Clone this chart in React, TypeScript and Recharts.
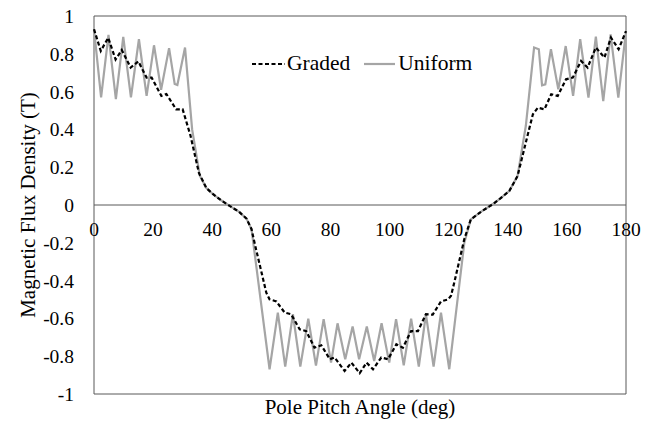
import React from "react";
import {
    LineChart,
    Line,
    XAxis,
    YAxis,
    Legend,
    Label,
    ReferenceLine,
    ReferenceArea,
} from "recharts";

// Uniform magnet: pole pitch angle (deg) and flux density (T)
const uniformAngle = [
    0, 2.4, 4.9, 7.4, 9.9, 12.5, 15.2, 17.8, 20.3, 22.7, 25.4, 27.3, 28.2, 30.8, 33.2, 35.8,
    38, 40.3, 43, 45.9, 49, 51.6, 53.3,
    59.4, 62.2, 64.7, 67.3, 69.8, 72.5, 75.1, 77.7, 80.2, 82.4, 85, 87.5, 89.7, 92.3, 94.8,
    97.3, 99.9, 102.2, 104.8, 107.3, 109.9, 112.3, 114.9, 117.4, 120.2,
    125.3, 127.5, 131, 134.9, 137.5, 140.5, 143.3, 146.1,
    148.9, 150.5, 151.6, 152.7, 154.6, 157.1, 159.6, 162.1, 164.5, 167.3, 169.8, 172.3, 174.8, 177.4, 180,
];
const uniformFlux = [
    0.93, 0.57, 0.9, 0.56, 0.89, 0.57, 0.877, 0.577, 0.845, 0.61, 0.83, 0.64, 0.635, 0.833, 0.4, 0.155,
    0.09, 0.057, 0.025, -0.005, -0.035, -0.072, -0.128,
    -0.869, -0.569, -0.855, -0.578, -0.855, -0.601, -0.85, -0.604, -0.834, -0.626, -0.816, -0.643, -0.816, -0.643, -0.825,
    -0.626, -0.834, -0.604, -0.848, -0.601, -0.855, -0.578, -0.855, -0.569, -0.869,
    -0.199, -0.076, -0.035, 0.004, 0.035, 0.074, 0.153, 0.418,
    0.833, 0.824, 0.633, 0.638, 0.824, 0.612, 0.841, 0.577, 0.877, 0.568, 0.891, 0.55, 0.903, 0.568, 0.92,
];

// Graded magnet
const gradedAngle = [
    0, 2.3, 4.8, 7.3, 9.4, 12.4, 15, 17.8, 19.5, 22.8, 24.5, 27.8, 30, 32.6, 35.5,
    38, 40.3, 43, 45.9, 49, 51.6, 53.3, 54.3, 58.3,
    59.4, 61.7, 64.5, 66.7, 69.6, 71.8, 74.6, 76.9, 79.8, 81.4, 84.8, 87.1, 89.9, 92.2, 94.4,
    97.2, 99.5, 102.3, 104.5, 107.3, 109.6, 112.3, 114.6, 117.4, 119.8, 120.8, 121.9,
    125.3, 127.5, 131, 134.9, 137.5, 140.5, 143.3, 147.2, 148.5,
    150.2, 152.4, 154.7, 156.9, 159.7, 162, 164.8, 167, 169.8, 172.7, 174.9, 177.5, 180,
];
const gradedFlux = [
    0.93, 0.815, 0.885, 0.77, 0.82, 0.727, 0.76, 0.674, 0.674, 0.577, 0.587, 0.506, 0.506, 0.37, 0.17,
    0.09, 0.057, 0.025, -0.005, -0.035, -0.072, -0.128, -0.199, -0.464,
    -0.499, -0.51, -0.569, -0.578, -0.658, -0.667, -0.755, -0.742, -0.816, -0.807, -0.878, -0.834, -0.89, -0.834, -0.869,
    -0.807, -0.816, -0.737, -0.755, -0.667, -0.667, -0.578, -0.58, -0.51, -0.5, -0.48, -0.41,
    -0.18, -0.076, -0.035, 0.004, 0.035, 0.074, 0.153, 0.4, 0.48,
    0.515, 0.506, 0.586, 0.577, 0.665, 0.674, 0.762, 0.727, 0.833, 0.78, 0.886, 0.824, 0.92,
];

const xTicks = [0, 20, 40, 60, 80, 100, 120, 140, 160, 180];
const yTicks = [-1, -0.8, -0.6, -0.4, -0.2, 0, 0.2, 0.4, 0.6, 0.8, 1];

const uniformData = uniformAngle.map((angle, i) => ({ angle, flux: uniformFlux[i] }));
const gradedData = gradedAngle.map((angle, i) => ({ angle, flux: gradedFlux[i] }));

const FONT = '"Liberation Serif", "DejaVu Serif", serif';
const TICK_SIZE = 19.5;
const TITLE_SIZE = 21;
const LEGEND_SIZE = 21.5;
const WIDTH = 657;
const HEIGHT = 421;
const MARGIN = { top: 16, right: 31, bottom: 0, left: 0 };
const X_AXIS_HEIGHT = 27;
const PLOT_HEIGHT = HEIGHT - MARGIN.top - MARGIN.bottom - X_AXIS_HEIGHT;
const AXIS_COLOR = "#595959";
const UNIFORM_COLOR = "#a5a5a5";
const GRADED_DASH = "4 2.5";

const tickStyle = { fontFamily: FONT, fontSize: TICK_SIZE, fill: "#000" };
const titleStyle = { fontFamily: FONT, fontSize: TITLE_SIZE, fill: "#000" };

// x tick labels sit just under the zero line, not at the bottom of the frame
const XTick = (props: any) => {
    const { x, y, payload } = props;
    return (
        <text x={x} y={y - PLOT_HEIGHT / 2 + 31} textAnchor="middle" style={tickStyle}>
            {payload.value}
        </text>
    );
};

const renderLegend = () => (
    <div style={{ display: "flex", alignItems: "center", fontFamily: FONT, fontSize: LEGEND_SIZE, color: "#000" }}>
        <svg width={33} height={10}>
            <line x1={0} y1={5} x2={33} y2={5} stroke="#000" strokeWidth={2.2} strokeDasharray={GRADED_DASH} />
        </svg>
        <span style={{ marginLeft: 2 }}>Graded</span>
        <svg width={31} height={10} style={{ marginLeft: 14 }}>
            <line x1={0} y1={5} x2={31} y2={5} stroke={UNIFORM_COLOR} strokeWidth={2.2} />
        </svg>
        <span style={{ marginLeft: 3 }}>Uniform</span>
    </div>
);

export default function App() {
    return (
        <div style={{ position: "absolute", left: 0, top: 0, width: WIDTH, height: HEIGHT, background: "#fff", fontFamily: FONT }}>
            <LineChart width={WIDTH} height={HEIGHT} margin={MARGIN} style={{ fontFamily: FONT }}>
                <ReferenceArea x1={0} x2={180} y1={-1} y2={1} fill="none" stroke={AXIS_COLOR} strokeWidth={1} />
                <ReferenceLine y={0} stroke={AXIS_COLOR} strokeWidth={1} />
                <XAxis
                    type="number"
                    dataKey="angle"
                    domain={[0, 180]}
                    ticks={xTicks}
                    height={X_AXIS_HEIGHT}
                    axisLine={false}
                    tickLine={false}
                    tickSize={0}
                    tickMargin={0}
                    tick={<XTick />}
                    interval={0}
                >
                    <Label value="Pole Pitch Angle (deg)" position="insideBottom" offset={7} style={titleStyle} />
                </XAxis>
                <YAxis
                    type="number"
                    domain={[-1, 1]}
                    ticks={yTicks}
                    width={94}
                    axisLine={false}
                    tickLine={false}
                    tickSize={0}
                    tickMargin={20}
                    interval={0}
                    tickFormatter={(v: number) => String(v)}
                    tick={tickStyle}
                >
                    <Label
                        value="Magnetic Flux Density (T)"
                        angle={-90}
                        position="insideLeft"
                        offset={28}
                        style={{ ...titleStyle, textAnchor: "middle" }}
                    />
                </YAxis>
                <Legend
                    layout="horizontal"
                    verticalAlign="middle"
                    align="center"
                    content={renderLegend}
                    wrapperStyle={{ top: 51, left: 252, width: 250, height: 25 }}
                />
                <Line
                    data={uniformData}
                    dataKey="flux"
                    name="Uniform"
                    type="linear"
                    stroke={UNIFORM_COLOR}
                    strokeWidth={2.2}
                    dot={false}
                    isAnimationActive={false}
                />
                <Line
                    data={gradedData}
                    dataKey="flux"
                    name="Graded"
                    type="linear"
                    stroke="#000"
                    strokeWidth={2.2}
                    strokeDasharray={GRADED_DASH}
                    dot={false}
                    isAnimationActive={false}
                />
            </LineChart>
        </div>
    );
}
